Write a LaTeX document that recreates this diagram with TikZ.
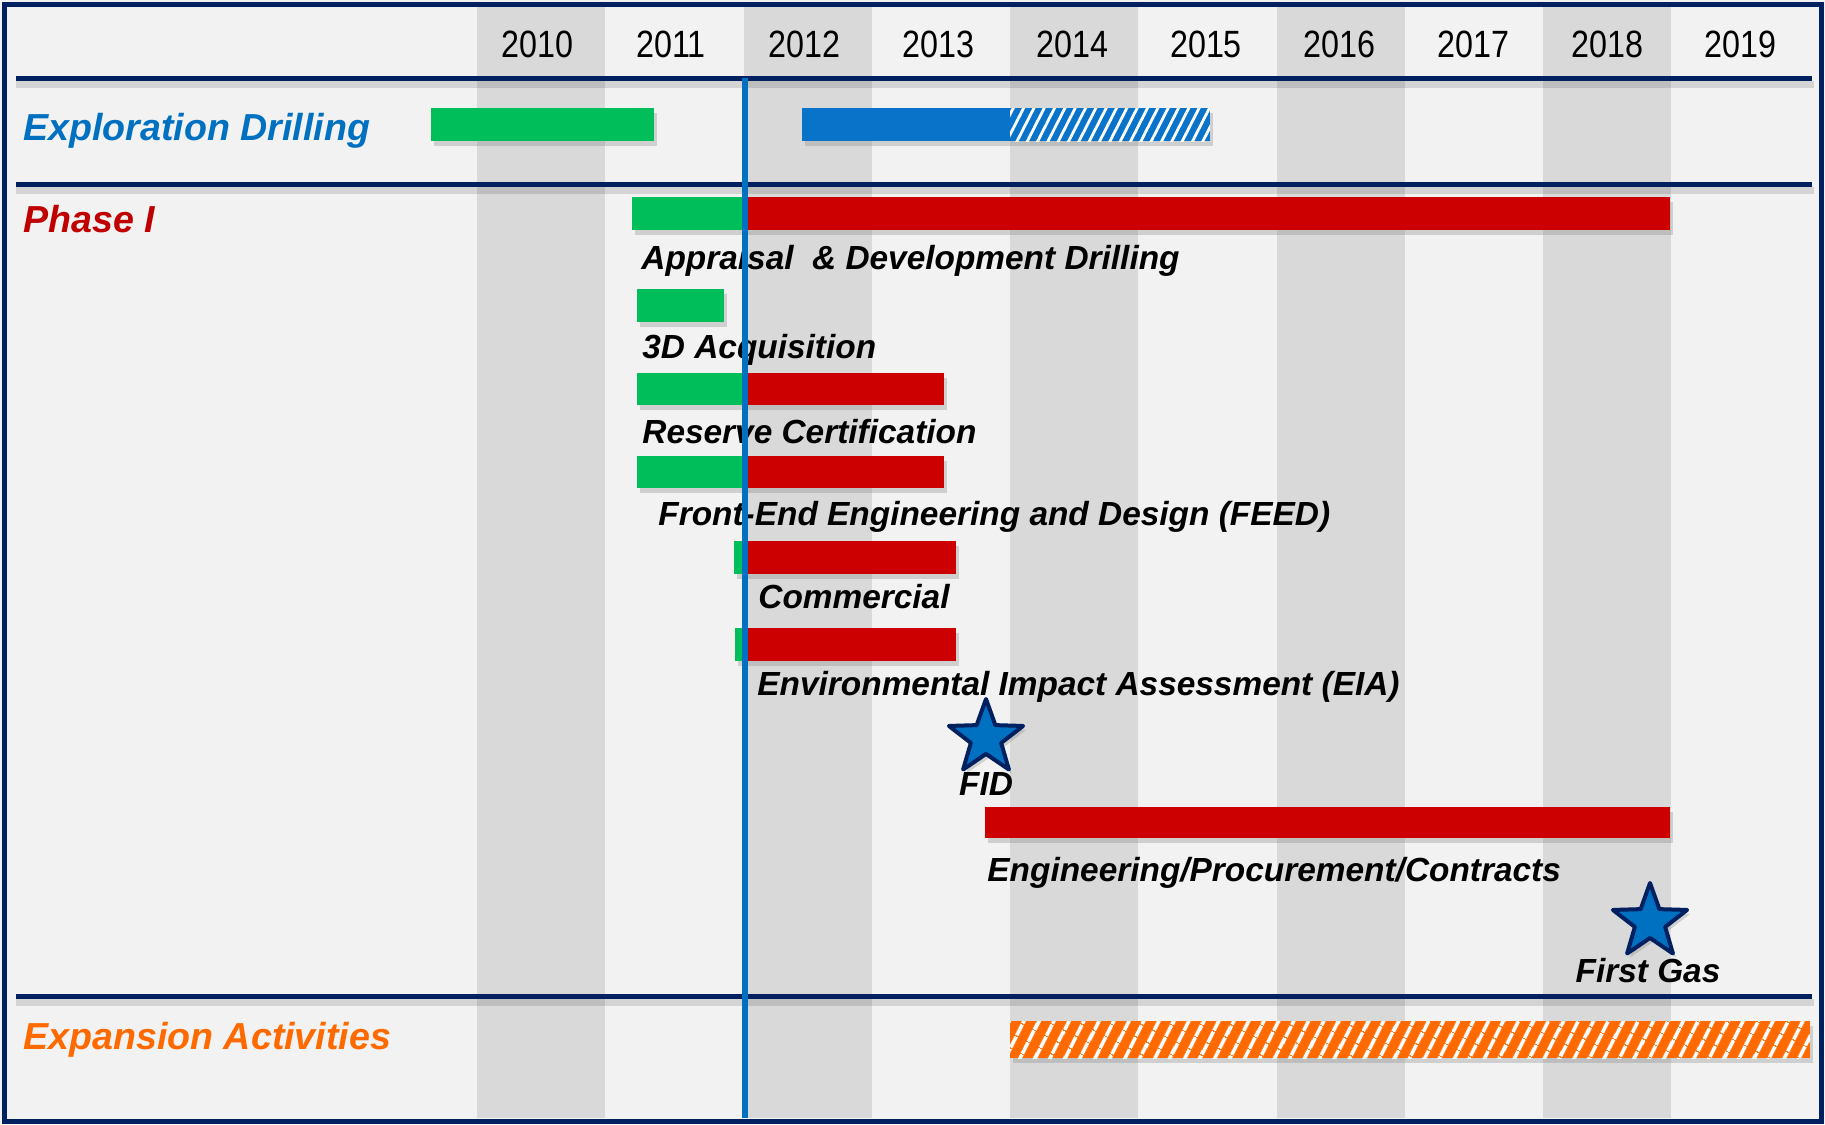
\documentclass[tikz,border=0pt]{standalone}
\usepackage{fontspec}
\setmainfont{Liberation Sans}
\newfontfamily\yearfont[FakeStretch=0.85]{Liberation Sans}
\usetikzlibrary{shapes.geometric,shadows,patterns.meta}

\definecolor{navy}{HTML}{002060}
\definecolor{bggrey}{HTML}{F2F2F2}
\definecolor{colgrey}{HTML}{D9D9D9}
\definecolor{bargreen}{HTML}{00BE5A}
\definecolor{barred}{HTML}{CC0000}
\definecolor{barblue}{HTML}{0873C8}
\definecolor{barorange}{HTML}{FF6A00}
\definecolor{headblue}{HTML}{0070C0}
\definecolor{headred}{HTML}{C00000}

\tikzset{
  bar/.style={drop shadow={opacity=.3,shadow xshift=1.5pt,shadow yshift=-2.5pt}},
  greenbar/.style={bar,fill=bargreen},
  redbar/.style={bar,fill=barred},
  bluebar/.style={bar,fill=barblue},
  bluehatch/.style={bar,preaction={fill=barblue},
    pattern={Lines[angle=63,distance=4.6pt,line width=1.4pt]},pattern color=white},
  orangehatch/.style={bar,preaction={fill=barorange},
    pattern={Lines[angle=63,distance=6.5pt,line width=1.9pt]},pattern color=white},
  task/.style={anchor=base west,inner sep=0,font=\fontsize{16.7}{20}\selectfont\bfseries\itshape},
  heading/.style={anchor=base west,inner sep=0,font=\fontsize{18.8}{22}\selectfont\bfseries\itshape},
  year/.style={anchor=base,inner sep=0,font=\yearfont\fontsize{19}{22}\selectfont},
  milestone/.style={star,star points=5,star point ratio=2.45,minimum size=39pt,inner sep=0,
    fill=headblue,draw=navy,line width=2pt,line join=round,
    drop shadow={opacity=.3,shadow xshift=1.5pt,shadow yshift=-2pt}},
  sectionline/.style={navy,line width=2.5pt},
  lineshadow/.style={black,opacity=.12,line width=3.5pt},
}

\begin{document}
\begin{tikzpicture}[x=0.5pt,y=-0.5pt]
  \useasboundingbox (0,0) rectangle (1825,1124);
  \fill[bggrey] (0,0) rectangle (1825,1124);

  % year columns
  \foreach \i in {0,...,4}
    \fill[colgrey] ({477+266.5*\i},7) rectangle ({605+266.5*\i},1118);
  \foreach \yr [count=\i from 0] in {2010,...,2019}
    \node[year] (y\yr) at ({537.5+133.7*\i},57) {\yr};

  % section lines
  \foreach \yy in {78,184,996} {
    \draw[lineshadow] (16,\yy+6) -- (1814,\yy+6);
    \draw[sectionline] (16,\yy) -- (1812,\yy);
  }

  \node[heading,text=headblue] (explore) at (23,140) {Exploration Drilling};
  \node[heading,text=headred] (phase) at (23,232) {Phase I};
  \node[heading,text=barorange] (expand) at (23,1049) {Expansion Activities};

  % exploration
  \fill[greenbar] (431,108) rectangle (654,141);
  \fill[bluebar] (802,108) rectangle (1010,141);
  \path[bluehatch] (1010,108) rectangle (1210,141);

  % phase I
  \fill[greenbar] (632,197) rectangle (745,230);
  \fill[redbar] (745,197) rectangle (1670,230);
  \node[task] (appraisal) at (641,269) {Appraisal~ \& Development Drilling};

  \fill[greenbar] (637,289) rectangle (724,322);
  \node[task] (seismic) at (642,358) {3D Acquisition};

  \fill[greenbar] (637,373) rectangle (745,405);
  \fill[redbar] (745,373) rectangle (944,405);
  \node[task] (reserve) at (642,443) {Reserve Certification};

  \fill[greenbar] (637,456) rectangle (745,488);
  \fill[redbar] (745,456) rectangle (944,488);
  \node[task] (feed) at (658,525) {Front-End Engineering and Design (FEED)};

  \fill[greenbar] (734,541) rectangle (745,574);
  \fill[redbar] (745,541) rectangle (956,574);
  \node[task] (commercial) at (758,608) {Commercial};

  \fill[greenbar] (735,628) rectangle (745,661);
  \fill[redbar] (745,628) rectangle (956,661);
  \node[task] (eia) at (757,695) {Environmental Impact Assessment (EIA)};

  \node[milestone] (fid) at (986,738) {};
  \node[task,anchor=base] (fidlabel) at (986,795) {FID};

  \fill[redbar] (985,807) rectangle (1670,838);
  \node[task] (epc) at (987,881) {Engineering/Procurement/Contracts};

  \node[milestone] (gas) at (1650,922) {};
  \node[task,anchor=base] (gaslabel) at (1648,982) {First Gas};

  % expansion
  \path[orangehatch] (1010,1021) rectangle (1810,1058);

  % today
  \draw[headblue,line width=3pt] (745,78) -- (745,1118);

  \draw[navy,line width=2.5pt] (4,4) rectangle (1821,1121);
\end{tikzpicture}
\end{document}
